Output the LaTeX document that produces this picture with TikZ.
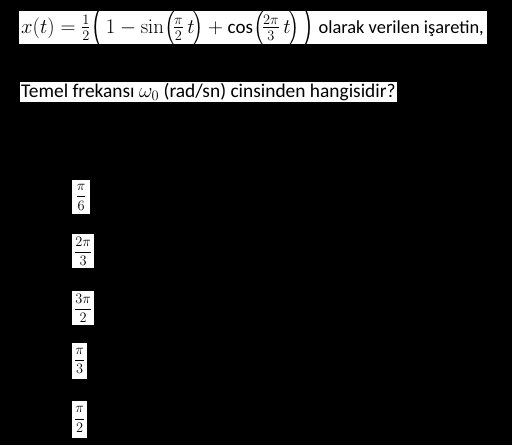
\documentclass[tikz,border=0pt]{standalone}
\usepackage{amsmath}
\usepackage[no-math]{fontspec}
\setmainfont{Carlito}
\begin{document}
\begin{tikzpicture}[x=1pt,y=1pt]
\tikzset{
  wrect/.style={fill=white, inner sep=0pt, anchor=north west},
  txt/.style={inner sep=0pt, anchor=west, text=black, font=\fontsize{19}{22}\selectfont},
  fbox/.style={fill=white, inner sep=0pt, anchor=north west, text=black, font=\fontsize{14.5}{17}\selectfont}
}
\fill[black] (0,0) rectangle (512,445);
\useasboundingbox (0,0) rectangle (512,445);
\node[wrect, minimum width=468, minimum height=33.3] (r1) at (19,434) {};
\node[txt, font=\fontsize{18.4}{22}\selectfont] (q1) at ([xshift=2pt]r1.west)
  {{\fontsize{19.5}{23}\selectfont$x(t)=\frac{1}{2}\biggl(1-\sin\Bigl(\!\frac{\pi}{2}\,t\!\Bigr)+\text{\fontsize{19}{22}\selectfont cos}\Bigl(\!\frac{2\pi}{3}\,t\!\Bigr)\biggr)$}\hspace{0.2em}olarak verilen işaretin,};
\node[wrect, minimum width=376.7, minimum height=20.6] (r2) at (20,363.3) {};
\node[txt, font=\fontsize{19.4}{22}\selectfont] (q2) at ([xshift=1pt]r2.west)
  {Temel frekansı {\fontsize{21}{23}\selectfont$\omega_0$} (rad/sn) cinsinden hangisidir?};
\node[fbox, minimum width=18, minimum height=34] (a) at (72,265) {$\displaystyle\frac{\pi}{6}$};
\node[fbox, minimum width=22, minimum height=34] (b) at (72,211) {$\displaystyle\frac{2\pi}{3}$};
\node[fbox, minimum width=22, minimum height=34] (c) at (72,154) {$\displaystyle\frac{3\pi}{2}$};
\node[fbox, minimum width=15, minimum height=36] (d) at (72,102.3) {$\displaystyle\frac{\pi}{3}$};
\node[fbox, minimum width=15, minimum height=37] (e) at (72,44.3) {$\displaystyle\frac{\pi}{2}$};
\end{tikzpicture}
\end{document}
